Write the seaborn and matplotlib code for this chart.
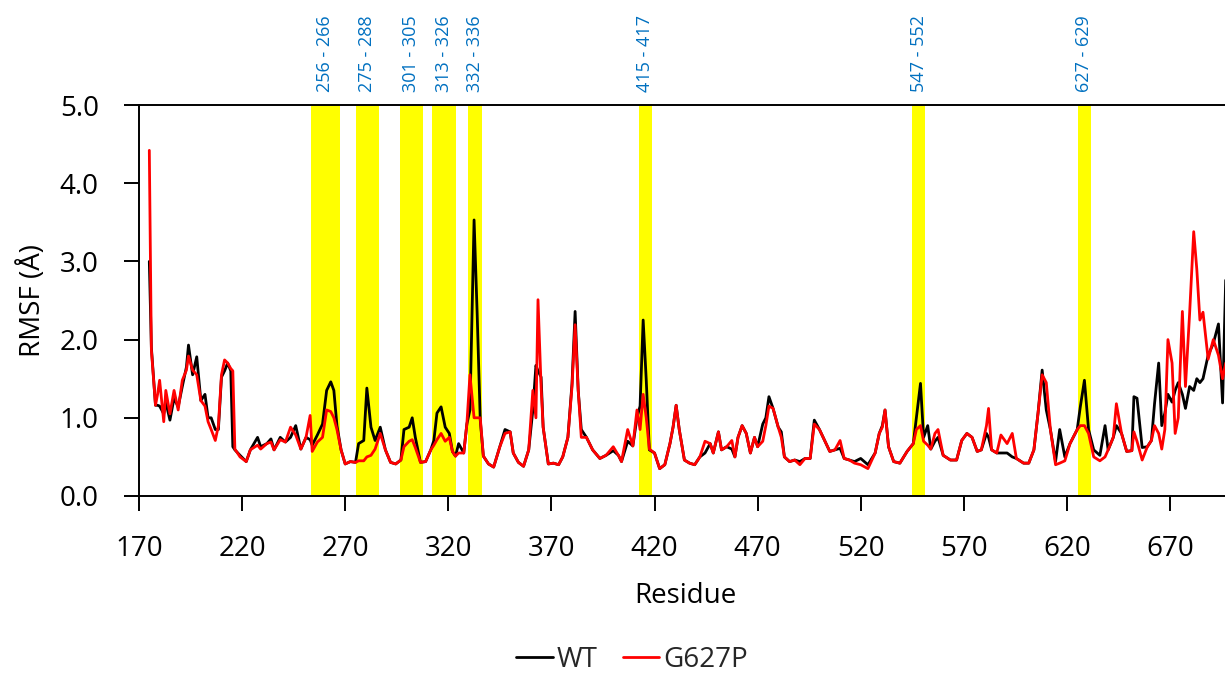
import matplotlib
matplotlib.use("Agg")
import matplotlib.pyplot as plt
import seaborn as sns
import pandas as pd
from matplotlib.lines import Line2D

# ---------------- data ----------------
residue = [175, 176, 178, 179, 180, 182, 183, 185, 187, 189, 191, 193, 194, 196, 198,
           200, 202, 203.5, 205, 207, 208.5, 210, 211.5, 213, 214.5, 215.5, 216.5, 219,
           222, 224, 227.5, 229, 232, 234, 235.5, 238.5, 241, 243.5, 246, 248.5, 251,
           253, 254, 256.5, 259, 261, 263, 264.5, 266, 268, 270, 272.5, 275, 276.5,
           279, 280.5, 282.5, 284.5, 287, 289.5, 292, 294.5, 297, 298.5, 301, 302.5,
           304, 306.5, 309, 311.5, 313, 314.5, 316.5, 318.5, 320.5, 322, 323.5, 325,
           327.5, 329, 330.5, 332.5, 334, 335.5, 337, 339.5, 342, 345, 347.5, 350,
           351.5, 354, 356.5, 359, 361, 362.5, 363.5, 365, 366, 368.5, 371, 373.5,
           375.5, 378, 380, 381.5, 383, 384.5, 387, 390, 393.5, 396.5, 400, 402.5,
           404, 407, 409.5, 411.5, 413, 414.5, 416, 417.5, 420, 422.5, 425, 427.5,
           429, 430.5, 432, 434.5, 437, 439.5, 442, 444.5, 447, 448.5, 451, 452.5,
           455, 457.5, 459, 460.5, 462.5, 464.5, 466.5, 468.5, 470, 472.5, 474,
           475.5, 477.5, 480, 481.5, 483, 485.5, 488, 490.5, 493, 495.5, 497.5, 500,
           502.5, 505, 507.5, 510, 512, 514.5, 517, 520, 523.5, 527, 529, 530.5,
           531.8, 533.5, 536, 539, 542.5, 545.5, 547, 549, 550.5, 552.5, 554, 556,
           557.5, 560, 563.5, 566.5, 569, 571.5, 574, 576.5, 578.5, 581, 582, 583.5,
           586, 588, 591, 593.5, 595.5, 599, 601.5, 604, 606, 608, 610, 612, 614.5,
           616.5, 619, 621.5, 625, 626.5, 628.5, 630.5, 633, 636, 638.5, 640, 642.5,
           644, 646.5, 649, 651.5, 652.5, 654, 656.5, 659, 661, 662.5, 664.5, 666,
           667.5, 669, 671, 672.5, 674, 676, 677.5, 679.5, 681.5, 683, 684.5, 686,
           688.5, 691, 693.5, 695.5, 697]

wt = [3.00, 1.90, 1.16, 1.16, 1.15, 1.05, 1.20, 0.97, 1.25, 1.14, 1.40, 1.65, 1.93, 1.55, 1.78,
      1.22, 1.30, 1.00, 1.00, 0.85, 0.85, 1.52, 1.60, 1.70, 1.60, 0.63, 0.59, 0.52,
      0.44, 0.59, 0.75, 0.63, 0.67, 0.73, 0.59, 0.75, 0.69, 0.75, 0.90, 0.60, 0.75,
      0.72, 0.65, 0.78, 0.92, 1.35, 1.46, 1.35, 0.90, 0.59, 0.41, 0.44, 0.43, 0.67,
      0.71, 1.38, 0.88, 0.71, 0.88, 0.59, 0.43, 0.41, 0.46, 0.85, 0.88, 1.00,
      0.75, 0.43, 0.44, 0.59, 0.71, 1.06, 1.14, 0.88, 0.80, 0.57, 0.51, 0.67,
      0.55, 0.92, 1.10, 3.53, 2.33, 0.97, 0.51, 0.41, 0.37, 0.63, 0.85, 0.82,
      0.55, 0.43, 0.38, 0.59, 1.10, 1.67, 1.60, 1.52, 0.88, 0.41, 0.42, 0.40,
      0.50, 0.75, 1.44, 2.36, 1.35, 0.85, 0.75, 0.59, 0.48, 0.52, 0.58, 0.52,
      0.44, 0.70, 0.64, 1.00, 1.15, 2.25, 1.48, 0.59, 0.55, 0.35, 0.40, 0.67,
      0.88, 1.16, 0.85, 0.46, 0.42, 0.40, 0.50, 0.55, 0.67, 0.55, 0.82, 0.59,
      0.63, 0.60, 0.50, 0.75, 0.90, 0.80, 0.55, 0.75, 0.63, 0.92, 1.00,
      1.27, 1.12, 0.88, 0.82, 0.50, 0.44, 0.46, 0.44, 0.48, 0.48, 0.97, 0.85,
      0.71, 0.57, 0.59, 0.61, 0.48, 0.46, 0.44, 0.48, 0.40, 0.55, 0.80, 0.90,
      1.10, 0.63, 0.44, 0.42, 0.57, 0.67, 1.00, 1.44, 0.75, 0.90, 0.60, 0.70,
      0.75, 0.52, 0.46, 0.46, 0.71, 0.80, 0.75, 0.57, 0.59, 0.80, 0.75, 0.59,
      0.55, 0.55, 0.55, 0.50, 0.48, 0.42, 0.42, 0.59, 1.06, 1.61, 1.10, 0.85, 0.44,
      0.85, 0.50, 0.67, 0.85, 1.14, 1.48, 0.85, 0.59, 0.52, 0.90, 0.59, 0.75,
      0.90, 0.80, 0.57, 0.58, 1.27, 1.25, 0.62, 0.63, 0.71, 1.18, 1.70, 0.90,
      1.06, 1.30, 1.20, 1.35, 1.45, 1.30, 1.12, 1.40, 1.35, 1.50, 1.45, 1.50,
      1.80, 1.95, 2.20, 1.19, 2.76]

g627p = [4.42, 1.87, 1.16, 1.30, 1.48, 0.95, 1.35, 1.05, 1.35, 1.10, 1.48, 1.61, 1.79, 1.61, 1.55,
         1.22, 1.15, 0.95, 0.85, 0.71, 0.90, 1.55, 1.74, 1.70, 1.63, 1.60, 0.60, 0.50,
         0.44, 0.59, 0.65, 0.60, 0.67, 0.69, 0.59, 0.72, 0.69, 0.88, 0.78, 0.60, 0.75,
         1.03, 0.57, 0.69, 0.75, 1.10, 1.08, 1.00, 0.85, 0.59, 0.41, 0.44, 0.43, 0.45,
         0.45, 0.50, 0.52, 0.60, 0.80, 0.59, 0.43, 0.41, 0.46, 0.63, 0.70, 0.72,
         0.62, 0.43, 0.44, 0.59, 0.65, 0.72, 0.80, 0.70, 0.75, 0.57, 0.51, 0.55,
         0.55, 0.92, 1.55, 1.00, 1.00, 1.00, 0.51, 0.41, 0.37, 0.63, 0.80, 0.82,
         0.55, 0.43, 0.38, 0.59, 1.35, 1.00, 2.51, 1.40, 0.88, 0.41, 0.42, 0.40,
         0.50, 0.75, 1.40, 2.19, 1.35, 0.75, 0.75, 0.59, 0.48, 0.52, 0.63, 0.52,
         0.44, 0.85, 0.64, 1.10, 0.85, 1.30, 1.00, 0.60, 0.55, 0.35, 0.40, 0.67,
         0.88, 1.16, 0.85, 0.46, 0.42, 0.40, 0.50, 0.70, 0.67, 0.55, 0.82, 0.59,
         0.63, 0.71, 0.50, 0.75, 0.90, 0.80, 0.55, 0.75, 0.63, 0.70, 0.90,
         1.15, 1.12, 0.88, 0.75, 0.50, 0.44, 0.46, 0.40, 0.48, 0.48, 0.92, 0.85,
         0.71, 0.57, 0.59, 0.71, 0.48, 0.46, 0.42, 0.40, 0.35, 0.55, 0.80, 0.88,
         1.10, 0.63, 0.44, 0.42, 0.57, 0.67, 0.85, 0.90, 0.70, 0.65, 0.60, 0.80,
         0.85, 0.52, 0.46, 0.46, 0.71, 0.80, 0.75, 0.57, 0.59, 0.90, 1.12, 0.59,
         0.55, 0.78, 0.67, 0.80, 0.48, 0.42, 0.42, 0.59, 1.06, 1.55, 1.45, 0.85, 0.40,
         0.42, 0.45, 0.67, 0.85, 0.90, 0.90, 0.80, 0.50, 0.45, 0.50, 0.59, 0.75,
         1.18, 0.80, 0.57, 0.58, 0.82, 0.70, 0.46, 0.63, 0.71, 0.90, 0.80, 0.60,
         0.85, 2.00, 1.70, 0.80, 1.00, 2.36, 1.40, 2.33, 3.38, 2.90, 2.25, 2.35,
         1.75, 2.00, 1.80, 1.50, 1.70]

series_names = ["WT", "G627P"]
band_labels = ["256 - 266", "275 - 288", "301 - 305", "313 - 326", "332 - 336",
               "415 - 417", "547 - 552", "627 - 629"]
# shaded spans as drawn in the picture
band_lo = [253.3, 275.1, 296.4, 312.1, 329.6, 412.3, 545.1, 625.3]
band_hi = [267.5, 286.4, 307.7, 323.7, 336.2, 418.6, 551.3, 631.6]

x_ticks = [170, 220, 270, 320, 370, 420, 470, 520, 570, 620, 670]
y_ticks = [0, 1, 2, 3, 4, 5]

# ---------------- figure ----------------
sns.set_theme(style="white")
plt.rcParams["font.family"] = ["Open Sans", "DejaVu Sans"]

W, H = 1225, 676
fig = plt.figure(figsize=(W / 100, H / 100), dpi=100)
left_px, top_px, bottom_px = 139, 105, 496
x0, x1 = 170, 700
px_per_unit = 2.062
width_px = (x1 - x0) * px_per_unit
ax = fig.add_axes([left_px / W, 1 - bottom_px / H, width_px / W, (bottom_px - top_px) / H])

for lo, hi in zip(band_lo, band_hi):
    ax.axvspan(lo, hi, color="#FFFF00", lw=0, zorder=0)
for lo, hi, lab in zip(band_lo, band_hi, band_labels):
    ax.text((lo + hi) / 2, 1.0 + 13 / (bottom_px - top_px), lab,
            transform=ax.get_xaxis_transform(), rotation=90,
            ha="center", va="bottom", color="#0070C0", fontsize=13)

df = pd.DataFrame({
    "Residue": residue * 2,
    "RMSF": wt + g627p,
    "Series": [series_names[0]] * len(residue) + [series_names[1]] * len(residue),
})
sns.lineplot(data=df, x="Residue", y="RMSF", hue="Series",
             palette={"WT": "#000000", "G627P": "#FF0000"},
             linewidth=2.0, ax=ax, legend=False, zorder=3, sort=False)

ax.set_xlim(x0, x1)
ax.set_ylim(0, 5)
ax.set_xticks(x_ticks)
ax.set_yticks(y_ticks)
ax.set_yticklabels([f"{v:.1f}" for v in y_ticks])
ax.tick_params(axis="both", which="major", direction="out", length=11, width=1.4,
               color="black", labelsize=20, labelcolor="black")
ax.tick_params(axis="x", pad=17)
ax.tick_params(axis="y", pad=18)
ax.tick_params(bottom=True, left=True)
for side in ["left", "bottom", "top"]:
    ax.spines[side].set_visible(True)
    ax.spines[side].set_color("black")
    ax.spines[side].set_linewidth(1.4)
ax.spines["right"].set_visible(False)

ax.set_xlabel("Residue", fontsize=20, labelpad=14, color="black")
ax.set_ylabel("RMSF (Å)", fontsize=20, labelpad=9, color="black")

handles = [Line2D([], [], color="#000000", lw=2.0), Line2D([], [], color="#FF0000", lw=2.0)]
fig.legend(handles, series_names, loc="center", bbox_to_anchor=(632 / W, 1 - 660 / H),
           ncol=2, frameon=False, fontsize=20, handlelength=1.3, handletextpad=0.15,
           columnspacing=0.9)

fig.savefig("out.png", dpi=100)
